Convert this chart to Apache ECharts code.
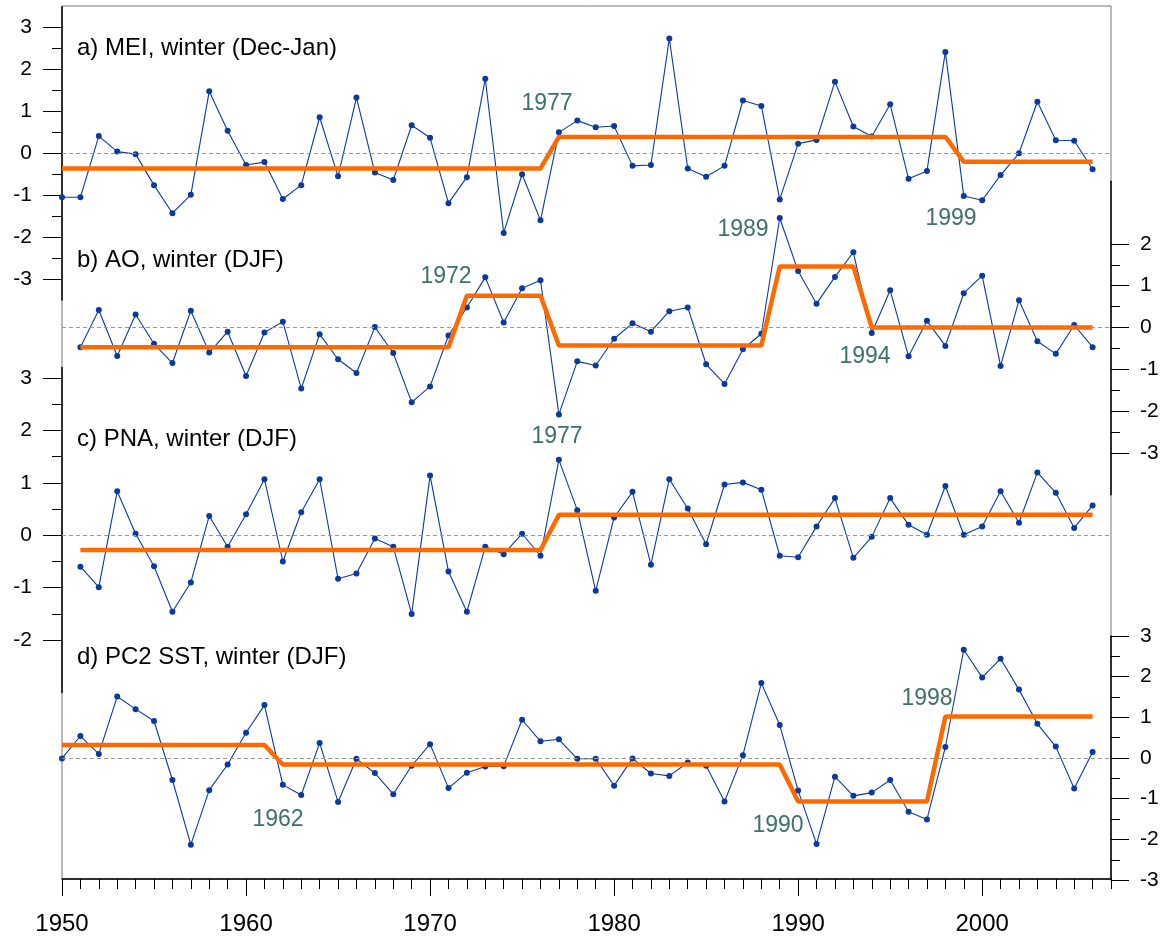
<!DOCTYPE html>
<html>
<head>
<meta charset="utf-8">
<script src="https://cdn.jsdelivr.net/npm/echarts@6/dist/echarts.min.js"></script>
<style>
  html, body { margin: 0; padding: 0; background: #fff; }
  #chart { width: 1167px; height: 936px; }
</style>
</head>
<body>
<div id="chart"></div>
<script>
// ---- data ----
const yearTicks = [1950, 1960, 1970, 1980, 1990, 2000];

// a) MEI, winter (Dec-Jan), 1950-2006
const meiFirstYear = 1950;
const meiValues = [
  -1.05, -1.05, 0.41, 0.04, -0.02, -0.76, -1.43, -0.99, 1.48, 0.54,
  -0.28, -0.21, -1.09, -0.76, 0.86, -0.55, 1.33, -0.46, -0.64, 0.67,
  0.37, -1.19, -0.57, 1.78, -1.90, -0.50, -1.60, 0.50, 0.78, 0.62,
  0.65, -0.30, -0.28, 2.74, -0.36, -0.56, -0.30, 1.26, 1.13, -1.10,
  0.23, 0.32, 1.71, 0.64, 0.40, 1.17, -0.61, -0.42, 2.42, -1.02,
  -1.12, -0.52, 0.00, 1.23, 0.31, 0.30, -0.38
];
const meiShiftYears = [1950, 1977, 1999];
const meiMeans = [-0.36, 0.39, -0.20];
const meiTicks = [-3, -2, -1, 0, 1, 2, 3];

// b) AO, winter (DJF), 1951-2006
const aoFirstYear = 1951;
const aoValues = [
  -0.47, 0.42, -0.68, 0.31, -0.39, -0.85, 0.40, -0.60, -0.10, -1.16,
  -0.12, 0.14, -1.46, -0.16, -0.76, -1.09, 0.01, -0.61, -1.79, -1.41,
  -0.19, 0.48, 1.20, 0.12, 0.94, 1.13, -2.08, -0.81, -0.91, -0.27,
  0.10, -0.10, 0.39, 0.48, -0.88, -1.35, -0.52, -0.15, 2.62, 1.35,
  0.57, 1.21, 1.80, -0.13, 0.89, -0.69, 0.16, -0.44, 0.82, 1.24,
  -0.92, 0.65, -0.33, -0.63, 0.06, -0.47
];
const aoShiftYears = [1951, 1972, 1977, 1989, 1994];
const aoMeans = [-0.47, 0.76, -0.43, 1.46, 0.0];
const aoTicks = [-3, -2, -1, 0, 1, 2];

// c) PNA, winter (DJF), 1951-2006
const pnaFirstYear = 1951;
const pnaValues = [
  -0.60, -0.99, 0.84, 0.03, -0.59, -1.46, -0.90, 0.37, -0.22, 0.40,
  1.07, -0.50, 0.44, 1.07, -0.83, -0.73, -0.06, -0.22, -1.50, 1.14,
  -0.69, -1.46, -0.22, -0.36, 0.03, -0.39, 1.44, 0.48, -1.06, 0.34,
  0.83, -0.56, 1.07, 0.51, -0.17, 0.97, 1.01, 0.87, -0.39, -0.42,
  0.17, 0.71, -0.43, -0.03, 0.71, 0.20, 0.01, 0.94, 0.01, 0.17,
  0.84, 0.24, 1.20, 0.81, 0.14, 0.57
];
const pnaShiftYears = [1951, 1977];
const pnaMeans = [-0.28, 0.39];
const pnaTicks = [-2, -1, 0, 1, 2, 3];

// d) PC2 SST, winter (DJF), 1950-2006
const sstFirstYear = 1950;
const sstValues = [
  -0.01, 0.54, 0.10, 1.51, 1.20, 0.91, -0.54, -2.13, -0.79, -0.16,
  0.62, 1.30, -0.66, -0.91, 0.37, -1.08, -0.02, -0.37, -0.89, -0.19,
  0.34, -0.74, -0.36, -0.21, -0.20, 0.94, 0.41, 0.46, -0.02, -0.02,
  -0.68, -0.01, -0.38, -0.44, -0.11, -0.19, -1.07, 0.07, 1.84, 0.81,
  -0.80, -2.11, -0.46, -0.93, -0.85, -0.54, -1.32, -1.51, 0.27, 2.66,
  1.98, 2.44, 1.68, 0.84, 0.28, -0.75, 0.15
];
const sstShiftYears = [1950, 1962, 1990, 1998];
const sstMeans = [0.32, -0.16, -1.07, 1.02];
const sstTicks = [-3, -2, -1, 0, 1, 2, 3];

const lastYear = 2006;

// ---- layout ----
const X_MIN = 1950, X_MAX = 2007;
const LEFT = 62, RIGHT = 56;
const FRAME_TOP = 6, FRAME_BOTTOM = 880;
const FONT = 'Liberation Sans, Arial, sans-serif';
const BLUE = '#0b3a9e';
const ORANGE = '#ff6a00';
const TEAL = '#3e706c';

// zeroY: pixel of value 0, unit: pixels per unit, [min,max]: extent of the axis line
const panels = [
  { name: 'mei', first: meiFirstYear, values: meiValues, shifts: meiShiftYears, means: meiMeans,
    ticks: meiTicks, side: 'left', zeroY: 153.3, unit: 41.9, min: -3.5, max: 3.5 },
  { name: 'ao', first: aoFirstYear, values: aoValues, shifts: aoShiftYears, means: aoMeans,
    ticks: aoTicks, side: 'right', zeroY: 327.5, unit: 41.8, min: -4, max: 3.5 },
  { name: 'pna', first: pnaFirstYear, values: pnaValues, shifts: pnaShiftYears, means: pnaMeans,
    ticks: pnaTicks, side: 'left', zeroY: 535.3, unit: 52.4, min: -3, max: 3.2 },
  { name: 'sst', first: sstFirstYear, values: sstValues, shifts: sstShiftYears, means: sstMeans,
    ticks: sstTicks, side: 'right', zeroY: 758, unit: 40.7, min: -3, max: 3 }
];

const titles = [
  { text: 'a) MEI, winter (Dec-Jan)', x: 77, y: 48 },
  { text: 'b) AO, winter (DJF)', x: 77, y: 260 },
  { text: 'c) PNA, winter (DJF)', x: 77, y: 439 },
  { text: 'd) PC2 SST, winter (DJF)', x: 77, y: 657 }
];

const annotations = [
  { text: '1977', x: 547, y: 104 },
  { text: '1999', x: 951, y: 219 },
  { text: '1972', x: 446, y: 277 },
  { text: '1989', x: 743, y: 230 },
  { text: '1994', x: 865, y: 357 },
  { text: '1977', x: 557, y: 437 },
  { text: '1962', x: 278, y: 820 },
  { text: '1990', x: 778, y: 826 },
  { text: '1998', x: 927, y: 699 }
];

function halves(ticks) {
  const out = [];
  for (let i = 0; i < ticks.length - 1; i++) out.push((ticks[i] + ticks[i + 1]) / 2);
  return out;
}

function seriesPoints(first, values) {
  return values.map((v, i) => [first + i, v]);
}

function stepPoints(shifts, means) {
  const pts = [];
  shifts.forEach((s, i) => {
    const end = i < shifts.length - 1 ? shifts[i + 1] - 1 : lastYear;
    pts.push([s, means[i]]);
    pts.push([end, means[i]]);
  });
  return pts;
}

const grids = [];
const xAxes = [];
const yAxes = [];
const series = [];

panels.forEach((p, i) => {
  const top = p.zeroY - p.max * p.unit;
  const height = (p.max - p.min) * p.unit;
  grids.push({ left: LEFT, right: RIGHT, top: top, height: height, show: false });
  xAxes.push({ gridIndex: i, type: 'value', min: X_MIN, max: X_MAX, show: false });

  const outward = p.side === 'left';
  yAxes.push({
    gridIndex: i, type: 'value', position: p.side, min: p.min, max: p.max,
    axisLine: { show: true, onZero: false, lineStyle: { color: '#000', width: 1.5 } },
    axisTick: { show: true, customValues: p.ticks, length: outward ? 19 : 18, lineStyle: { color: '#000', width: 1 } },
    axisLabel: {
      show: true, customValues: p.ticks, margin: outward ? 30 : 29,
      fontSize: 21, color: '#000', fontFamily: FONT,
      formatter: v => String(v)
    },
    splitLine: { show: false }
  });
  yAxes.push({
    gridIndex: i, type: 'value', position: p.side, min: p.min, max: p.max,
    axisLine: { show: false },
    axisTick: { show: true, customValues: halves(p.ticks), length: outward ? 10 : 9, lineStyle: { color: '#000', width: 1 } },
    axisLabel: { show: false },
    splitLine: { show: false }
  });

  series.push({
    name: p.name, type: 'line', xAxisIndex: i, yAxisIndex: 2 * i,
    data: seriesPoints(p.first, p.values),
    symbol: 'circle', symbolSize: 6, clip: false,
    lineStyle: { color: BLUE, width: 1.1 },
    itemStyle: { color: BLUE },
    z: 3,
    markLine: {
      silent: true, symbol: 'none', label: { show: false },
      lineStyle: { color: '#9a9a9a', type: [4, 3], width: 1 },
      data: [{ yAxis: 0 }]
    }
  });
  series.push({
    name: p.name + ' shift', type: 'line', xAxisIndex: i, yAxisIndex: 2 * i,
    data: stepPoints(p.shifts, p.means),
    symbol: 'none', clip: false,
    lineStyle: { color: ORANGE, width: 4.5 },
    z: 4
  });
});

// frame with the shared year axis
const frameIdx = panels.length;
grids.push({
  left: LEFT, right: RIGHT, top: FRAME_TOP, bottom: 936 - FRAME_BOTTOM,
  show: true, borderColor: '#777', borderWidth: 1, backgroundColor: 'transparent', z: 0
});
const allYears = [];
for (let y = X_MIN; y <= X_MAX; y++) allYears.push(y);
xAxes.push({
  gridIndex: frameIdx, type: 'value', position: 'bottom', min: X_MIN, max: X_MAX,
  axisLine: { show: true, onZero: false, lineStyle: { color: '#000', width: 1.5 } },
  axisTick: { show: true, customValues: yearTicks, length: 17, lineStyle: { color: '#000', width: 1 } },
  axisLabel: {
    show: true, customValues: yearTicks, margin: 33, fontSize: 24, color: '#000', fontFamily: FONT,
    formatter: v => String(v)
  },
  splitLine: { show: false }
});
xAxes.push({
  gridIndex: frameIdx, type: 'value', position: 'bottom', min: X_MIN, max: X_MAX,
  axisLine: { show: false },
  axisTick: { show: true, customValues: allYears, length: 10, lineStyle: { color: '#000', width: 1 } },
  axisLabel: { show: false },
  splitLine: { show: false }
});
yAxes.push({ gridIndex: frameIdx, type: 'value', min: 0, max: 1, show: false });

const graphic = [];
titles.forEach(t => graphic.push({
  type: 'text', x: t.x, y: t.y, z: 10,
  style: { text: t.text, fill: '#000', font: '24px ' + FONT, textAlign: 'left', textVerticalAlign: 'middle', align: 'left', verticalAlign: 'middle' }
}));
annotations.forEach(a => graphic.push({
  type: 'text', x: a.x, y: a.y, z: 10,
  style: { text: a.text, fill: TEAL, font: '23px ' + FONT, textAlign: 'center', textVerticalAlign: 'middle', align: 'center', verticalAlign: 'middle' }
}));

const chart = echarts.init(document.getElementById('chart'), null, { renderer: 'canvas' });
chart.setOption({
  animation: false,
  backgroundColor: '#fff',
  grid: grids,
  xAxis: xAxes,
  yAxis: yAxes,
  series: series,
  graphic: graphic
});
</script>
</body>
</html>
